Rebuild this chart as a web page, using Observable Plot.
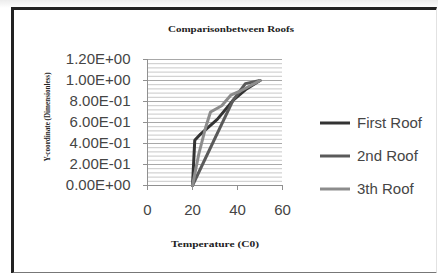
<!DOCTYPE html>
<html><head><meta charset="utf-8">
<script src="https://cdn.jsdelivr.net/npm/d3@7"></script>
<script src="https://cdn.jsdelivr.net/npm/@observablehq/plot@0.6"></script>
<style>
html,body{margin:0;padding:0;background:#fff;}
#chart{position:relative;width:438px;height:273px;overflow:hidden;background:linear-gradient(#ececec,#ffffff 8px);}
#frame{position:absolute;left:11px;top:7px;width:422px;height:262px;background:#fff;
  border-left:3.5px solid #222;border-top:3.5px solid #222;border-right:1px solid #e2e2e2;border-bottom:2px solid #777;}
#chart svg{position:absolute;left:0;top:0;}
</style></head>
<body><div id="chart"><div id="frame"></div></div>
<script>
const title = "Comparisonbetween Roofs";
const xLabel = "Temperature (C0)";
const yLabel = "Y-coordinate (Dimensionless)";
const seriesNames = ["First Roof", "2nd Roof", "3th Roof"];
const seriesColors = ["#333333", "#5a5a5a", "#8c8c8c"];
const xTicks = [0, 20, 40, 60];
const yTicks = [0, 0.2, 0.4, 0.6, 0.8, 1.0, 1.2];
const firstX = [20, 21, 23.6, 31, 38, 44, 50];
const firstY = [0, 0.43, 0.49, 0.63, 0.81, 0.92, 1.0];
const secondX = [20, 38, 43.5, 50];
const secondY = [0, 0.81, 0.97, 1.0];
const thirdX = [20, 22.8, 25.8, 28, 33, 37, 41.3, 50];
const thirdY = [0, 0.3, 0.55, 0.7, 0.76, 0.86, 0.9, 1.0];

const data = [];
[[firstX, firstY], [secondX, secondY], [thirdX, thirdY]].forEach(([xs, ys], i) =>
  xs.forEach((x, j) => data.push({series: seriesNames[i], x, y: ys[j]})));

const minorGrid = d3.range(0, 1.2001, 0.04);
const fmt = d => {
  const [m, e] = d.toExponential(2).toUpperCase().split("E");
  return m + "E" + e[0] + e.slice(1).padStart(2, "0");
};

const W = 438, H = 273;
const chart = Plot.plot({
  width: W, height: H,
  marginLeft: 147, marginRight: 156, marginTop: 59, marginBottom: 88,
  style: {fontFamily: "Liberation Sans, sans-serif", fontSize: "15px", color: "#454545", background: "transparent"},
  x: {domain: [0, 60]},
  y: {domain: [0, 1.2]},
  color: {domain: seriesNames, range: seriesColors},
  marks: [
    Plot.ruleY(minorGrid, {stroke: "#c8c8c8", strokeWidth: 1}),
    Plot.ruleY(yTicks, {stroke: "#a8a8a8", strokeWidth: 1}),
    Plot.ruleX([0], {stroke: "#909090"}),
    Plot.ruleY([0], {stroke: "#909090"}),
    Plot.axisX({ticks: xTicks, tickSize: 5, tickPadding: 14, label: null, stroke: "#909090"}),
    Plot.axisY({ticks: yTicks, tickSize: 4, tickPadding: 13, tickFormat: fmt, label: null, stroke: "#909090"}),
    Plot.line(data, {x: "x", y: "y", z: "series", stroke: "series", strokeWidth: 3, strokeLinejoin: "miter"})
  ]
});
document.getElementById("chart").appendChild(chart);

const svg = d3.select(chart);
const serif = "Liberation Serif, serif";
svg.append("text").attr("x", 231).attr("y", 32).attr("text-anchor", "middle")
  .attr("font-family", serif).attr("font-weight", "bold").attr("font-size", 9).attr("fill", "#222")
  .attr("textLength", 126).attr("lengthAdjust", "spacingAndGlyphs").text(title);
svg.append("text").attr("x", 215).attr("y", 247).attr("text-anchor", "middle")
  .attr("font-family", serif).attr("font-weight", "bold").attr("font-size", 9).attr("fill", "#222")
  .attr("textLength", 88).attr("lengthAdjust", "spacingAndGlyphs").text(xLabel);
svg.append("text").attr("transform", "translate(50,117) rotate(-90)").attr("text-anchor", "middle")
  .attr("font-family", serif).attr("font-weight", "bold").attr("font-size", 8).attr("fill", "#222")
  .attr("textLength", 89).attr("lengthAdjust", "spacingAndGlyphs").text(yLabel);

// legend
const lg = svg.append("g");
seriesNames.forEach((s, i) => {
  const y = 123 + i * 33;
  lg.append("line").attr("x1", 320).attr("x2", 350).attr("y1", y).attr("y2", y)
    .attr("stroke", seriesColors[i]).attr("stroke-width", 3);
  lg.append("text").attr("x", 357).attr("y", y).attr("dy", "0.35em").attr("text-anchor", "start")
    .attr("font-family", "Liberation Sans, sans-serif").attr("font-size", 15).attr("fill", "#454545").text(s);
});
</script>
</body></html>
